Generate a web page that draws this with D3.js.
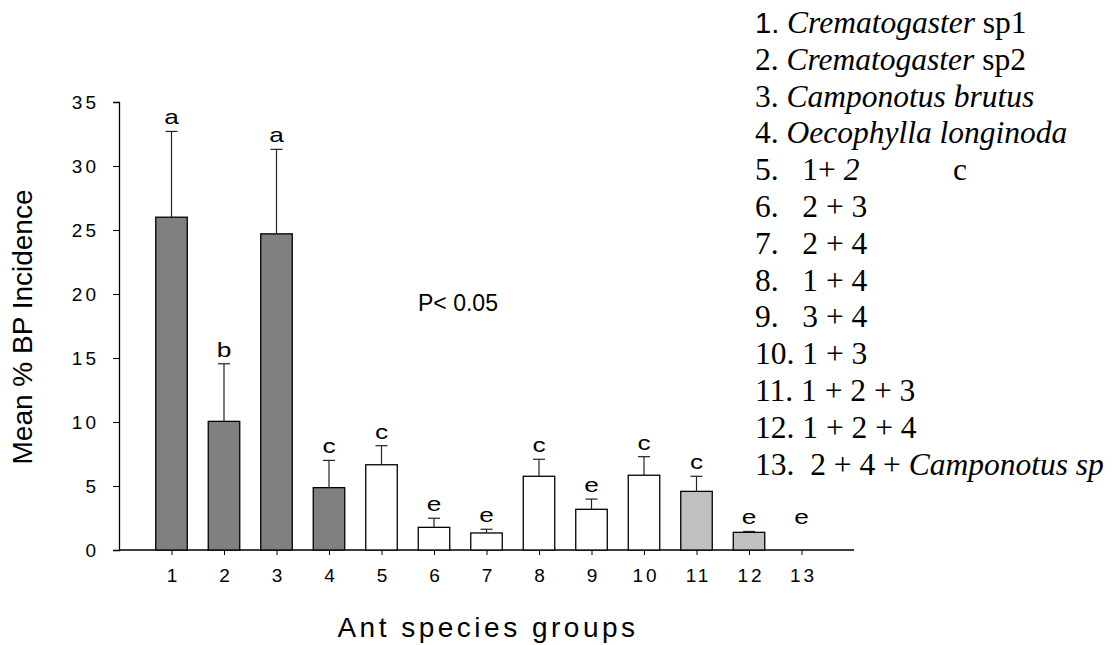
<!DOCTYPE html>
<html>
<head>
<meta charset="utf-8">
<script src="https://cdn.jsdelivr.net/npm/d3@7"></script>
<style>
	body { margin: 0; background: #fff; }
	svg { display: block; }
	text { white-space: pre; }
</style>
</head>
<body>
<svg id="chart" width="1115" height="645"></svg>
<script>
const groups = ['1', '2', '3', '4', '5', '6', '7', '8', '9', '10', '11', '12', '13'];
const means = [26.0, 10.05, 24.7, 4.87, 6.66, 1.77, 1.33, 5.76, 3.18, 5.84, 4.58, 1.38, 0];
const errTops = [32.7, 14.55, 31.3, 7.0, 8.15, 2.48, 1.62, 7.09, 3.98, 7.29, 5.76, 1.45, 0];
const letters = ['a', 'b', 'a', 'c', 'c', 'e', 'e', 'c', 'e', 'c', 'c', 'e', 'e'];
const shades = ['dark', 'dark', 'dark', 'dark', 'white', 'white', 'white', 'white', 'white', 'white', 'light', 'light', 'light'];
const yTicks = [0, 5, 10, 15, 20, 25, 30, 35];

// legend lines: [number, [text, italic?], ...]
const legendLines = [
	['1.', [' ', false], ['Crematogaster', true], [' sp1', false]],
	['2.', [' ', false], ['Crematogaster', true], [' sp2', false]],
	['3.', [' ', false], ['Camponotus brutus', true]],
	['4.', [' ', false], ['Oecophylla longinoda', true]],
	['5.', ['   1+ ', false], ['2', true]],
	['6.', ['   2 + 3', false]],
	['7.', ['   2 + 4', false]],
	['8.', ['   1 + 4', false]],
	['9.', ['   3 + 4', false]],
	['10.', [' 1 + 3', false]],
	['11.', [' 1 + 2 + 3', false]],
	['12.', [' 1 + 2 + 4', false]],
	['13.', ['  2 + 4 + ', false], ['Camponotus sp', true]]
];

const fills = { dark: '#808080', white: '#ffffff', light: '#c0c0c0' };
const sans = 'Liberation Sans';
const serif = 'Liberation Serif';

const svg = d3.select('#chart');

const x = d3.scalePoint()
	.domain(groups)
	.range([119, 854])
	.padding(1);

const y = d3.scaleLinear()
	.domain([0, 35])
	.range([550, 102]);

const barW = 31.5;

// axes
const yAxis = svg.append('g')
	.attr('transform', 'translate(119,0)')
	.call(d3.axisLeft(y).tickValues(yTicks).tickSize(6).tickPadding(14));

const xAxis = svg.append('g')
	.attr('transform', 'translate(0,550)')
	.call(d3.axisBottom(x).tickSize(5).tickPadding(14));

[yAxis, xAxis].forEach(a => {
	a.attr('font-size', 19).attr('font-family', sans);
	a.select('.domain').attr('stroke', '#000').attr('stroke-width', 1.3);
	a.selectAll('.tick line').attr('stroke', '#000');
	a.selectAll('.tick text')
		.attr('fill', '#000')
		.attr('letter-spacing', 3);
});
xAxis.select('.domain').attr('d', 'M119,0H854');
xAxis.selectAll('.tick text').attr('dx', '1.5px');

// bars
svg.append('g')
	.selectAll('rect')
	.data(groups)
	.enter()
	.append('rect')
	.attr('x', d => x(d) - barW / 2)
	.attr('y', (d, i) => y(means[i]))
	.attr('width', barW)
	.attr('height', (d, i) => y(0) - y(means[i]))
	.attr('fill', (d, i) => fills[shades[i]])
	.attr('stroke', '#000')
	.attr('stroke-width', 1.3);

// error bars
const errs = svg.append('g')
	.selectAll('g')
	.data(groups.filter((d, i) => errTops[i] > means[i]))
	.enter()
	.append('g')
	.attr('stroke', '#222')
	.attr('stroke-width', 1.2);

errs.append('line')
	.attr('x1', d => x(d))
	.attr('x2', d => x(d))
	.attr('y1', d => y(means[groups.indexOf(d)]))
	.attr('y2', d => y(errTops[groups.indexOf(d)]));

errs.append('line')
	.attr('x1', d => x(d) - 6)
	.attr('x2', d => x(d) + 6)
	.attr('y1', d => y(errTops[groups.indexOf(d)]))
	.attr('y2', d => y(errTops[groups.indexOf(d)]));

// significance letters (the original font is a bit wide, so stretch them)
svg.append('g')
	.selectAll('text')
	.data(groups)
	.enter()
	.append('text')
	.attr('transform', (d, i) => `translate(${x(d)},${y(Math.max(errTops[i], 1.45)) - 7}) scale(1.25,1)`)
	.attr('text-anchor', 'middle')
	.attr('font-family', sans)
	.attr('font-size', 21)
	.text((d, i) => letters[i]);

svg.append('text')
	.attr('x', 418)
	.attr('y', 311)
	.attr('font-family', sans)
	.attr('font-size', 23)
	.text('P< 0.05');

// axis titles
svg.append('text')
	.attr('transform', 'translate(32,327) rotate(-90)')
	.attr('text-anchor', 'middle')
	.attr('font-family', sans)
	.attr('font-size', 28)
	.text('Mean % BP Incidence');

svg.append('text')
	.attr('x', 488)
	.attr('y', 637)
	.attr('text-anchor', 'middle')
	.attr('font-family', sans)
	.attr('font-size', 28)
	.attr('letter-spacing', 3.5)
	.text('Ant species groups');

// legend
const legend = svg.append('g')
	.attr('font-family', serif)
	.attr('font-size', 31.5);

legendLines.forEach((line, i) => {
	const t = legend.append('text')
		.attr('x', 755)
		.attr('y', 33 + 36.8 * i);

	t.append('tspan')
		.attr('font-family', i === 0 ? sans : serif)
		.attr('font-size', i === 0 ? 29 : 31.5)
		.text(line[0]);

	line.slice(1).forEach(part => {
		t.append('tspan')
			.attr('font-style', part[1] ? 'italic' : 'normal')
			.text(part[0]);
	});
});

legend.append('text')
	.attr('x', 953)
	.attr('y', 33 + 36.8 * 4)
	.text('c');
</script>
</body>
</html>
